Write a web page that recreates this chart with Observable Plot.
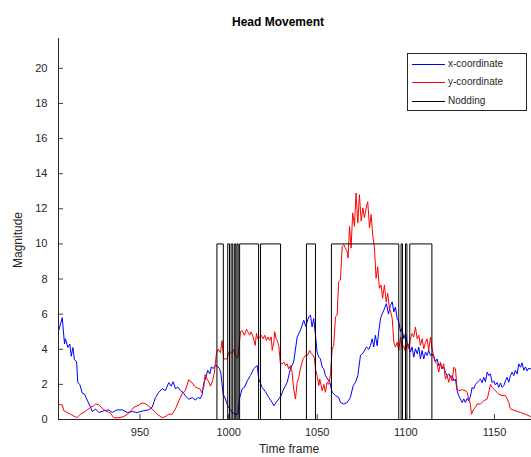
<!DOCTYPE html>
<html><head><meta charset="utf-8">
<script src="https://cdn.jsdelivr.net/npm/d3@7"></script>
<script src="https://cdn.jsdelivr.net/npm/@observablehq/plot@0.6"></script>
<style>
body{margin:0;background:#fff;font-family:"Liberation Sans",Arial,sans-serif;}
#wrap{position:relative;width:531px;height:457px;overflow:hidden;}
.abs{position:absolute;white-space:nowrap;color:#262626;}
#title{left:178px;width:200px;top:14px;line-height:16px;text-align:center;font-size:12px;font-weight:bold;color:#000;}
#ylab{left:18px;top:240px;font-size:12px;line-height:14px;transform:translate(-50%,-50%) rotate(-90deg);}
#xlab{left:289px;top:449px;font-size:12px;line-height:14px;transform:translate(-50%,-50%);}
#legend{position:absolute;left:407px;top:53px;width:118px;height:56px;border:1px solid #262626;background:#fff;}
.row{position:absolute;left:0;height:14px;width:118px;}
.row .ln{position:absolute;left:4px;width:33px;top:7px;height:1px;}
.row .tx{position:absolute;left:40px;top:0;font-size:10px;line-height:14px;color:#262626;}
</style></head><body><div id="wrap"></div>
<script>
// ---- data ----
const xDomain = [904, 1170.9];
const yDomain = [0, 21.7];
const xTicks = [950, 1000, 1050, 1100, 1150];
const yTicks = [0, 2, 4, 6, 8, 10, 12, 14, 16, 18, 20];
const seriesNames = ["x-coordinate", "y-coordinate", "Nodding"];
const seriesColors = ["#0000ff", "#ff0000", "#000000"];

const blueT = [904.2,906.1,907.4,907.9,909.3,910.4,911.2,912.1,913.0,914.2,914.9,916.0,917.4,918.7,920.2,922.1,923.0,924.9,926.8,929.6,932.4,934.3,937.1,939.9,942.8,945.6,948.4,952.1,955.0,956.9,958.7,960.6,962.5,964.4,966.2,967.6,968.7,970.0,971.3,972.8,974.3,975.6,977.5,979.4,981.3,982.6,984.1,985.1,986.0,986.9,988.2,989.4,990.3,991.3,992.6,993.5,994.8,995.6,996.9,998.2,999.5,1001.0,1002.0,1003.9,1005.2,1006.1,1007.6,1008.9,1010.5,1012.3,1014.2,1016.1,1017.0,1018.9,1020.8,1022.6,1024.6,1025.5,1027.0,1028.3,1029.6,1031.1,1033.0,1034.9,1036.7,1038.7,1040.5,1042.4,1043.5,1045.2,1046.2,1047.1,1048.0,1049.0,1049.9,1050.9,1051.8,1052.8,1053.7,1054.6,1055.9,1057.1,1058.4,1060.3,1062.1,1063.1,1065.0,1066.9,1068.7,1070.3,1071.6,1072.9,1074.4,1076.2,1077.8,1079.1,1080.0,1081.0,1081.9,1082.8,1083.8,1084.7,1085.7,1086.6,1087.9,1089.0,1090.2,1091.3,1092.3,1093.2,1094.1,1095.1,1096.0,1097.0,1097.9,1098.8,1099.8,1100.7,1101.6,1102.6,1103.5,1104.5,1105.4,1106.4,1107.3,1108.2,1109.2,1110.1,1111.1,1112.0,1112.9,1113.9,1114.8,1115.7,1116.7,1117.6,1118.6,1119.5,1120.4,1121.4,1122.3,1123.3,1124.2,1125.2,1126.1,1127.1,1128.0,1128.9,1129.8,1130.8,1131.8,1132.7,1133.6,1134.6,1135.5,1136.4,1137.4,1138.3,1139.3,1140.2,1141.1,1142.1,1143.0,1144.0,1144.9,1145.9,1146.8,1147.7,1148.7,1149.6,1150.5,1151.5,1152.4,1153.4,1154.3,1155.3,1156.2,1157.1,1158.1,1159.0,1160.0,1160.9,1161.8,1162.8,1163.7,1164.7,1165.6,1166.5,1167.5,1168.4,1169.3,1170.5];
const blueV = [5.1,5.8,4.3,4.6,4.1,4.3,3.6,4.1,3.4,3.3,2.1,2.0,1.5,1.45,1.1,0.7,0.45,0.6,0.4,0.5,0.55,0.4,0.55,0.55,0.4,0.45,0.4,0.5,0.55,0.7,1.25,1.55,1.75,1.65,2.1,1.9,2.15,1.75,1.85,1.65,1.55,1.35,1.15,1.25,1.1,1.25,1.2,1.45,2.1,2.3,2.8,2.6,3.0,2.9,3.1,3.05,2.9,2.65,1.45,1.17,0.78,0.55,0.4,0.3,0.3,1.17,1.74,1.83,2.2,2.5,2.9,3.07,2.3,1.83,1.58,1.26,0.97,0.78,1.0,1.17,1.36,1.74,2.1,2.9,3.27,4.7,5.08,5.65,5.3,5.85,5.94,5.27,5.75,4.8,3.84,3.55,3.45,2.98,2.88,2.5,2.3,2.12,1.55,1.36,1.26,0.97,0.88,0.97,1.26,1.93,2.12,2.5,3.65,3.84,4.13,4.0,4.22,4.6,4.13,4.8,4.2,5.0,5.75,6.0,6.3,6.6,6.0,6.5,6.7,6.13,6.4,5.75,5.56,5.0,5.18,4.6,4.9,4.4,4.22,3.84,4.13,3.55,4.03,3.74,4.13,3.45,3.93,3.45,3.84,3.65,3.93,3.65,3.74,3.55,3.27,3.45,3.07,3.17,2.88,2.98,2.69,2.5,2.6,2.4,2.5,2.2,2.3,1.65,1.36,1.17,0.97,1.17,0.97,1.2,1.07,1.3,1.83,1.74,2.0,2.1,2.2,2.3,2.1,2.4,2.15,2.7,2.5,2.6,2.1,2.2,1.97,2.1,1.83,2.08,1.83,1.93,2.2,2.4,2.12,2.5,2.7,2.5,2.8,2.6,3.17,2.98,3.23,2.8,3.0,2.76,2.92,2.88];

const redT = [904.2,906.1,907.0,908.9,910.8,912.6,914.5,916.4,918.3,920.2,922.1,923.9,924.9,926.7,928.7,930.5,933.3,935.2,938.1,940.9,943.7,946.5,949.3,951.2,953.1,955.0,956.9,959.7,962.5,964.4,966.2,968.1,970.0,971.9,973.7,975.6,977.5,978.4,979.4,980.7,982.2,983.7,984.8,986.0,986.7,987.9,989.0,989.8,990.9,992.0,993.1,994.1,995.4,996.3,997.2,999.1,1000.4,1001.9,1002.9,1003.9,1005.2,1006.7,1007.6,1008.9,1010.1,1010.8,1011.9,1012.7,1013.8,1015.0,1015.7,1016.4,1017.6,1018.4,1019.5,1020.4,1021.3,1022.1,1023.2,1024.0,1024.6,1025.5,1026.0,1026.8,1027.4,1028.3,1029.2,1030.2,1031.1,1032.1,1033.0,1033.9,1034.9,1035.8,1036.7,1037.7,1038.7,1039.6,1040.5,1042.0,1043.4,1044.5,1045.8,1046.7,1047.7,1048.4,1049.0,1049.9,1050.9,1051.4,1052.2,1052.8,1053.7,1054.6,1055.6,1056.5,1057.5,1058.4,1059.3,1060.3,1061.2,1062.1,1063.1,1064.1,1065.0,1065.9,1066.9,1067.4,1068.2,1069.1,1070.0,1071.0,1071.9,1072.9,1073.8,1074.8,1075.7,1076.6,1077.6,1078.5,1079.5,1080.4,1081.3,1082.3,1083.2,1084.1,1085.1,1086.0,1086.9,1087.9,1088.9,1089.8,1090.7,1091.3,1092.3,1093.2,1094.1,1095.1,1096.0,1097.0,1097.9,1098.8,1099.8,1100.7,1101.6,1102.6,1103.5,1104.5,1105.4,1106.4,1107.3,1108.2,1109.2,1110.1,1111.1,1112.0,1112.9,1113.9,1114.8,1115.7,1116.7,1117.6,1118.6,1119.5,1120.4,1121.4,1122.3,1123.3,1124.2,1125.2,1126.1,1127.1,1128.0,1128.9,1129.8,1131.8,1133.6,1134.6,1135.5,1136.4,1137.0,1138.3,1139.3,1140.2,1142.1,1144.0,1145.9,1146.8,1147.7,1148.7,1150.5,1152.4,1154.3,1156.2,1158.1,1159.0,1161.8,1164.7,1167.5,1170.3];
const redV = [0.84,0.84,0.5,0.4,0.3,0.2,0.11,0.3,0.4,0.55,0.69,0.78,0.88,0.85,0.63,0.5,0.36,0.1,0.1,0.17,0.36,0.69,0.82,0.94,0.9,0.75,0.6,0.3,0.1,0.17,0.3,0.3,0.6,1.07,1.45,1.65,2.27,2.15,2.1,1.9,1.8,1.75,1.55,1.85,2.55,2.3,2.1,1.9,2.2,2.7,3.75,4.0,3.8,4.5,3.45,3.45,3.9,3.75,4.0,3.6,3.5,5.0,5.08,4.8,5.14,5.0,4.8,5.0,4.7,4.22,4.9,4.6,4.7,4.8,4.6,4.8,4.5,4.7,4.5,4.7,3.94,4.4,5.0,4.6,4.5,4.22,3.17,3.17,3.27,3.07,3.17,2.88,3.07,2.69,1.74,1.17,2.12,2.4,2.88,3.46,3.65,3.65,3.93,3.74,3.65,3.5,2.88,2.5,1.93,2.3,1.93,1.64,2.0,1.55,2.12,2.0,2.6,4.0,4.22,5.85,5.94,7.85,7.95,9.86,9.95,9.76,9.57,9.2,11.0,9.76,11.77,11.0,12.9,11.2,12.8,11.3,12.05,11.5,12.05,12.4,10.9,11.67,10.5,9.76,8.04,8.7,7.47,7.66,6.9,7.66,6.7,7.18,6.32,6.2,5.75,4.4,4.13,4.4,3.93,4.7,4.03,4.2,3.84,4.3,4.03,4.6,4.9,4.7,5.27,4.6,4.8,4.22,4.6,4.03,4.4,4.6,3.93,4.7,4.03,3.65,3.27,3.17,2.7,3.27,2.88,3.17,2.3,2.5,2.12,2.5,2.2,2.98,2.88,1.74,1.64,1.7,1.64,1.55,1.17,0.88,0.3,0.6,0.7,0.88,0.88,1.07,1.17,1.55,2.0,1.83,1.64,1.45,1.36,1.36,0.97,0.6,0.5,0.4,0.3,0.17];

// Nodding: frames where the signal is on (value 10), else 0
const nodOnStart = [993.4, 999.5, 1001.4, 1003.2, 1004.7, 1006.2, 1018.0, 1043.9, 1058.0, 1097.3, 1099.8, 1102.2];
const nodOnEnd   = [997.0, 1000.5, 1002.3, 1004.0, 1005.4, 1016.9, 1029.3, 1049.0, 1096.0, 1098.1, 1100.6, 1114.7];
const nodHigh = 10;

// ---- build ----
const blue = blueT.map((t, i) => ({t, v: blueV[i]}));
const red = redT.map((t, i) => ({t, v: redV[i]}));
const nod = [{t: xDomain[0], v: 0}];
nodOnStart.forEach((s, i) => {
  const e = nodOnEnd[i];
  nod.push({t: s, v: 0}, {t: s, v: nodHigh}, {t: e, v: nodHigh}, {t: e, v: 0});
});
nod.push({t: xDomain[1], v: 0});

const font = "'Liberation Sans', Arial, sans-serif";
const fmt = d3.format("d");
const chart = Plot.plot({
  width: 531, height: 457,
  marginTop: 38, marginBottom: 38, marginLeft: 58, marginRight: 0,
  style: {fontFamily: font, fontSize: "11px", color: "#262626", background: "transparent"},
  x: {domain: xDomain},
  y: {domain: yDomain},
  marks: [
    Plot.axisX({ticks: xTicks, tickSize: 0, tickPadding: 9, tickFormat: fmt, label: null, fontSize: 11}),
    Plot.axisY({ticks: yTicks, tickSize: 0, tickPadding: 11, tickFormat: fmt, label: null, fontSize: 11}),
    Plot.axisX({ticks: xTicks, tickSize: -5, tickFormat: () => "", label: null, stroke: "#444"}),
    Plot.axisY({ticks: yTicks, tickSize: -5, tickFormat: () => "", label: null, stroke: "#444"}),
    Plot.line(blue, {x: "t", y: "v", stroke: seriesColors[0], strokeWidth: 1}),
    Plot.line(red, {x: "t", y: "v", stroke: seriesColors[1], strokeWidth: 1}),
    Plot.line(nod, {x: "t", y: "v", stroke: seriesColors[2], strokeWidth: 1}),
    Plot.ruleX([xDomain[0]], {stroke: "#262626"}),
    Plot.ruleY([yDomain[0]], {stroke: "#262626"})
  ]
});

const wrap = document.getElementById("wrap");
wrap.appendChild(chart);
const mk = (id, txt) => { const d = document.createElement("div"); d.className = "abs"; d.id = id; d.textContent = txt; wrap.appendChild(d); };
mk("title", "Head Movement");
mk("ylab", "Magnitude");
mk("xlab", "Time frame");
const lg = document.createElement("div"); lg.id = "legend";
seriesNames.forEach((n, i) => {
  const r = document.createElement("div"); r.className = "row"; r.style.top = (3 + i * 18.3) + "px";
  const l = document.createElement("div"); l.className = "ln"; l.style.backgroundColor = seriesColors[i];
  const t = document.createElement("div"); t.className = "tx"; t.textContent = n;
  r.appendChild(l); r.appendChild(t); lg.appendChild(r);
});
wrap.appendChild(lg);
</script></body></html>
